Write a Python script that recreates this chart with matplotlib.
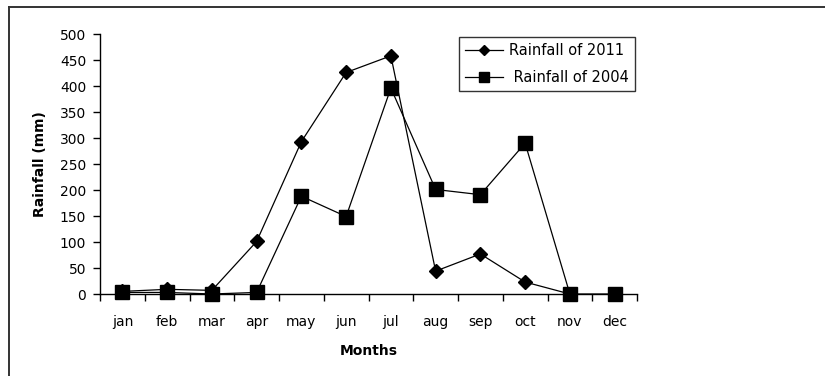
import numpy as np
import matplotlib
matplotlib.use("Agg")
import matplotlib.pyplot as plt
from matplotlib.lines import Line2D

plt.rcParams['font.family'] = ['DejaVu Sans']

# veriler
months = ["jan", "feb", "mar", "apr", "may", "jun", "jul", "aug", "sep", "oct", "nov", "dec"]
rain_2011 = [5, 9, 7, 101, 293, 426, 458, 44, 77, 23, 0, np.nan]
rain_2004 = [3, 3, 0, 3, 188, 149, 396, 201, 191, 290, 0, 0]
y_ticks = [0, 50, 100, 150, 200, 250, 300, 350, 400, 450, 500]

fig = plt.figure(figsize=(8.25, 3.76), dpi=100)
ax = fig.add_axes([100 / 825, 1 - 294 / 376, 537 / 825, 260 / 376])

x = np.arange(len(months))
ax.plot(x, rain_2011, color="black", lw=0.9, marker="D", ms=7,
        label="Rainfall of 2011", clip_on=False, zorder=3)
ax.plot(x, rain_2004, color="black", lw=0.9, marker="s", ms=9.5,
        label=" Rainfall of 2004", clip_on=False, zorder=3)

ax.set_xlim(-0.5, 11.5)
ax.set_ylim(0, 500)
ax.set_yticks(y_ticks)
ax.set_xticks(x)
ax.set_xticklabels(months)
ax.set_xticks(np.arange(-0.5, 12, 1), minor=True)
ax.tick_params(axis="x", which="major", length=0, pad=15, labelsize=10)
ax.tick_params(axis="x", which="minor", length=5, width=1, direction="out")
ax.tick_params(axis="y", length=5, width=1, direction="out", pad=5, labelsize=10)

for s in ["top", "right"]:
    ax.spines[s].set_visible(False)
for s in ["left", "bottom"]:
    ax.spines[s].set_linewidth(1)

ax.set_xlabel("Months", fontweight="bold", fontsize=10, labelpad=11)
ax.set_ylabel("Rainfall (mm)", fontweight="bold", fontsize=10, labelpad=9)

leg = ax.legend(loc="upper left", bbox_to_anchor=((459 - 100) / 537, (294 - 37) / 260),
                frameon=True, fancybox=False, edgecolor="black", fontsize=10.5,
                handlelength=2.6, handletextpad=0.45, borderpad=0.4, labelspacing=0.85,
                borderaxespad=0, markerscale=0.75)
leg.get_frame().set_linewidth(1)

# çerçeve çizgileri
fig.add_artist(Line2D([9 / 825, 1], [1 - 7 / 376, 1 - 7 / 376], color="#333333", lw=1.4))
fig.add_artist(Line2D([9 / 825, 9 / 825], [0, 1 - 7 / 376], color="#333333", lw=1.4))

fig.savefig("out.png", dpi=100)
